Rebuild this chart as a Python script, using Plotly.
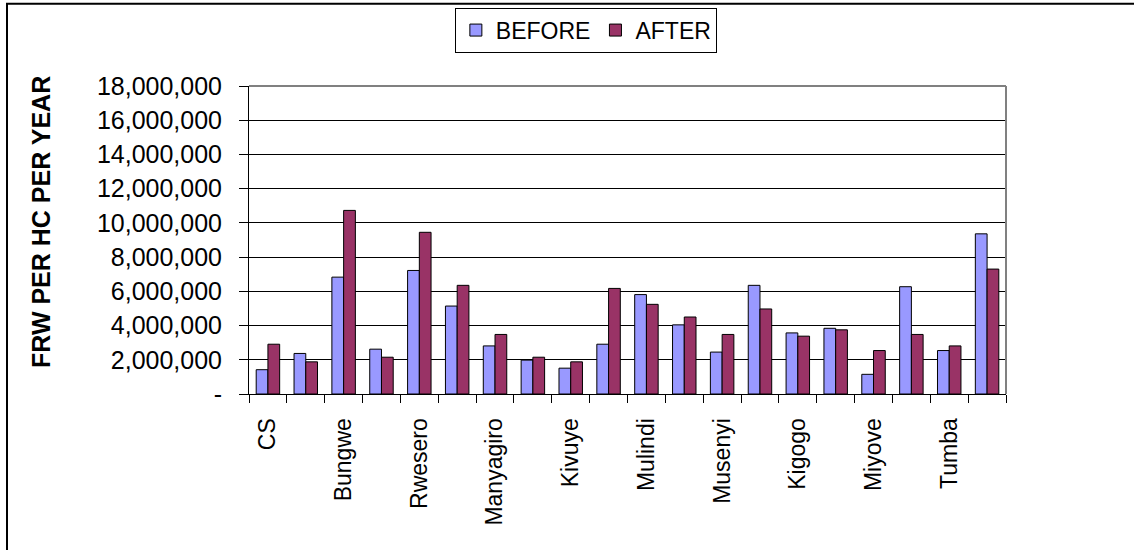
import plotly.graph_objects as go

# ---- data ----
categories = ["CS", "", "Bungwe", "", "Rwesero", "", "Manyagiro", "", "Kivuye", "",
              "Mulindi", "", "Musenyi", "", "Kigogo", "", "Miyove", "", "Tumba", ""]
before = [1420000, 2370000, 6830000, 2620000, 7220000, 5140000, 2810000, 1980000, 1510000, 2910000,
          5810000, 4040000, 2450000, 6350000, 3570000, 3840000, 1150000, 6270000, 2540000, 9360000]
after = [2910000, 1880000, 10730000, 2150000, 9450000, 6350000, 3480000, 2150000, 1880000, 6170000,
         5240000, 4500000, 3480000, 4970000, 3380000, 3750000, 2540000, 3480000, 2810000, 7300000]
y_ticks = [0, 2000000, 4000000, 6000000, 8000000, 10000000, 12000000, 14000000, 16000000, 18000000]
y_ticktext = ["-" if v == 0 else f"{v:,}" for v in y_ticks]
y_title = "FRW PER HC PER YEAR"

FONT = "Arial, Liberation Sans, sans-serif"
xs = list(range(len(categories)))

fig = go.Figure()
fig.add_trace(go.Bar(x=xs, y=before, name="BEFORE",
                     marker=dict(color="#9999FF", line=dict(color="black", width=1))))
fig.add_trace(go.Bar(x=xs, y=after, name="AFTER",
                     marker=dict(color="#993366", line=dict(color="black", width=1))))

W, H = 1134, 550
L, R, T, B = 249, 1006, 85.5, 394
fig.update_layout(
    width=W, height=H,
    margin=dict(l=L, r=W - R, t=T, b=H - B, autoexpand=False),
    paper_bgcolor="white", plot_bgcolor="white",
    barmode="group", bargap=0.38, bargroupgap=0,
    font=dict(family=FONT, color="black", size=23),
    legend=dict(orientation="h", x=0.445, xanchor="center", y=(B - 7) / (B - T), yanchor="top",
                bordercolor="black", borderwidth=1, font=dict(size=23),
                itemwidth=30, tracegroupgap=0),
    showlegend=True,
)
fig.update_xaxes(
    range=[-0.5, len(categories) - 0.5],
    tickmode="array", tickvals=xs, ticktext=categories,
    tickangle=-90, ticks="", tickfont=dict(size=23, family=FONT),
    ticklabelstandoff=14,
    showline=True, linecolor="black", linewidth=1,
    showgrid=False, zeroline=False,
    minor=dict(tickmode="array", tickvals=[i - 0.5 for i in range(len(categories) + 1)],
               ticks="outside", ticklen=8, tickcolor="black", tickwidth=1, showgrid=False),
)
fig.update_yaxes(
    range=[0, 18000000],
    tickmode="array", tickvals=y_ticks, ticktext=y_ticktext,
    ticks="outside", ticklen=9, tickcolor="black", tickwidth=1,
    tickfont=dict(size=25, family=FONT), ticklabelstandoff=12,
    showline=True, linecolor="black", linewidth=1,
    showgrid=True, gridcolor="black", gridwidth=1, zeroline=False,
)

# plot-area border (gray top and right)
fig.add_shape(type="line", xref="paper", yref="paper", x0=0, x1=1, y0=1, y1=1,
              line=dict(color="#808080", width=2))
fig.add_shape(type="line", xref="paper", yref="paper", x0=1, x1=1, y0=0, y1=1,
              line=dict(color="#808080", width=2))
# chart-area border (left & top visible)
px2x = lambda px: (px - L) / (R - L)
py2y = lambda py: (B - py) / (B - T)
fig.add_shape(type="rect", xref="paper", yref="paper",
              x0=px2x(7), x1=px2x(1140), y0=py2y(556), y1=py2y(3),
              line=dict(color="black", width=2), layer="below")

# y axis title
fig.add_annotation(text=y_title, xref="paper", yref="paper",
                   x=px2x(41.7), y=py2y(222), textangle=-90, showarrow=False,
                   xanchor="center", yanchor="middle",
                   font=dict(family=FONT, size=25, color="black", weight="bold"))

fig.write_html("out.html")
